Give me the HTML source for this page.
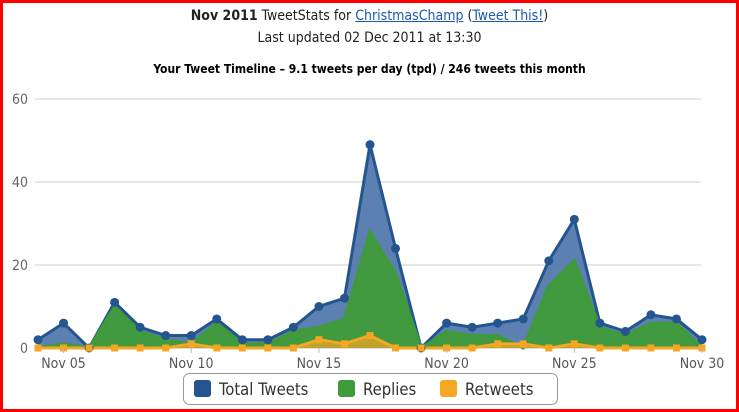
<!DOCTYPE html>
<html><head><meta charset="utf-8"><style>
html,body{margin:0;padding:0;background:#fff}
#w{position:relative;width:733px;height:406px;border:3px solid #f00;overflow:hidden;font-family:"DejaVu Sans Condensed","Liberation Sans",sans-serif}
.t{position:absolute;left:0;width:733px;text-align:center;color:#222}
a{color:#1a5ab0;text-decoration:underline}
</style></head><body><div id="w">
<div class="t" style="top:5px;font-size:14px"><b>Nov 2011</b> TweetStats for <a>ChristmasChamp</a> (<a>Tweet This!</a>)</div>
<div class="t" style="top:27px;font-size:14px">Last updated 02 Dec 2011 at 13:30</div>
<div class="t" style="top:59px;font-size:12px;font-weight:bold;color:#000">Your Tweet Timeline – 9.1 tweets per day (tpd) / 246 tweets this month</div>
<svg id="s" width="733" height="406" style="position:absolute;left:0;top:0"></svg>
</div>
<script>
var T=[2,6,0,11,5,3,3,7,2,2,5,10,12,49,24,0,6,5,6,7,21,31,6,4,8,7,2];
var R=[0,1,0,10,4,2,1,6,1,1,4,5,7,28,18,0,4,3,3,0,15,21,5,3,6,6,0];
var W=[0,0,0,0,0,0,1,0,0,0,0,2,1,3,0,0,0,0,1,1,0,1,0,0,0,0,0];
var ox=-3,oy=-3;
function X(i){return 38+i*664/26+ox}
function Y(v){return 348-v*4.15+oy}
var h='';
[0,20,40,60].forEach(function(v){h+='<line x1="32" x2="698" y1="'+Y(v)+'" y2="'+Y(v)+'" stroke="'+(v?'#ccc':'#bbb')+'"/>';
h+='<text x="25" y="'+(Y(v)+5)+'" text-anchor="end" font-size="14" fill="#666">'+v+'</text>';});
function area(d,fill,stroke,op){var p='M'+X(0)+','+Y(0);d.forEach(function(v,i){p+='L'+X(i)+','+Y(v)});p+='L'+X(26)+','+Y(0)+'Z';
var l='M';d.forEach(function(v,i){l+=(i?'L':'')+X(i)+','+Y(v)});
return '<path d="'+p+'" fill="'+fill+'" fill-opacity="'+op+'"/><path d="'+l+'" fill="none" stroke="'+stroke+'" stroke-width="3"/>';}
h+=area(T,'#4a72a8','#24558f',0.9);
h+=area(R,'#3f9a3a','#3f9a3a',0.95);
h+=area(W,'#f5a623','#f5a623',0.7);
T.forEach(function(v,i){h+='<circle cx="'+X(i)+'" cy="'+Y(v)+'" r="4.5" fill="#24558f"/>'});
W.forEach(function(v,i){h+='<rect x="'+(X(i)-3.5)+'" y="'+(Y(v)-3.5)+'" width="7" height="7" fill="#f5a623"/>'});
['Nov 05','Nov 10','Nov 15','Nov 20','Nov 25','Nov 30'].forEach(function(s,k){var i=1+k*5;
h+='<line x1="'+X(i)+'" x2="'+X(i)+'" y1="'+Y(0)+'" y2="'+(Y(0)+5)+'" stroke="#bbb"/>';
h+='<text x="'+X(i)+'" y="'+(Y(0)+20)+'" text-anchor="middle" font-size="14" fill="#555">'+s+'</text>';});
h+='<rect x="180.5" y="370.5" width="374" height="31" rx="6" fill="#fff" stroke="#999"/>';
[['#24558f','Total Tweets',191],['#3f9a3a','Replies',335],['#f5a623','Retweets',437]].forEach(function(a){
h+='<rect x="'+a[2]+'" y="377" width="17" height="17" rx="3" fill="'+a[0]+'"/><text x="'+(a[2]+25)+'" y="392" font-size="16.5" fill="#333">'+a[1]+'</text>';});
document.getElementById('s').innerHTML=h;
</script></body></html>
